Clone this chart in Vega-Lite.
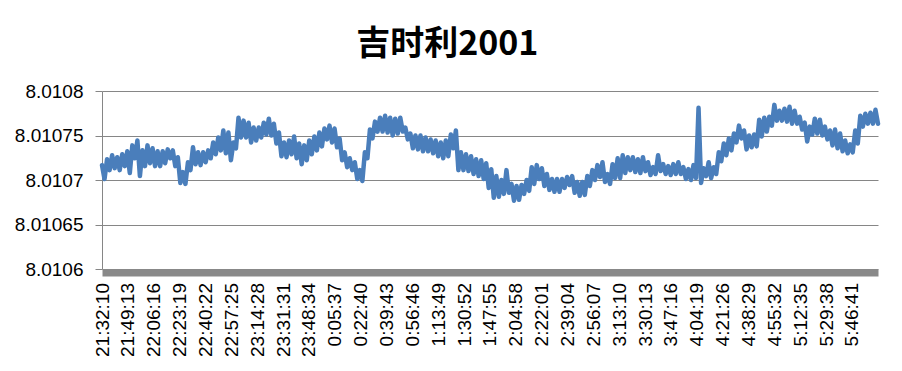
{
  "$schema": "https://vega.github.io/schema/vega-lite/v6.json",
  "width": 776,
  "height": 178,
  "autosize": {"type": "none"},
  "padding": {"left": 102, "top": 91, "right": 24, "bottom": 102},
  "background": "white",
  "title": {"text": "吉时利2001", "anchor": "middle", "frame": "bounds", "font": "Noto Sans CJK SC", "fontSize": 34, "fontWeight": "bold", "color": "#000000", "offset": 20},
  "data": {"values": [
{"n":0,"v":8.0107167},{"n":100,"v":8.0107011},{"n":200,"v":8.0107233},{"n":300,"v":8.0107111},{"n":400,"v":8.0107278},{"n":500,"v":8.0107133},{"n":600,"v":8.0107256},{"n":700,"v":8.0107111},{"n":800,"v":8.0107289},{"n":900,"v":8.0107156},
{"n":1000,"v":8.0107322},{"n":1100,"v":8.0107078},{"n":1200,"v":8.0107389},{"n":1300,"v":8.0107244},{"n":1400,"v":8.0107444},{"n":1500,"v":8.0107044},{"n":1600,"v":8.0107333},{"n":1700,"v":8.0107156},{"n":1800,"v":8.0107389},{"n":1900,"v":8.0107189},
{"n":2000,"v":8.0107356},{"n":2100,"v":8.0107156},{"n":2200,"v":8.0107322},{"n":2300,"v":8.0107156},{"n":2400,"v":8.0107322},{"n":2500,"v":8.0107189},{"n":2600,"v":8.0107344},{"n":2700,"v":8.0107244},{"n":2800,"v":8.0107333},{"n":2900,"v":8.0107156},
{"n":3000,"v":8.0107256},{"n":3100,"v":8.0106967},{"n":3200,"v":8.0107089},{"n":3300,"v":8.0106956},{"n":3400,"v":8.01072},{"n":3500,"v":8.0107111},{"n":3600,"v":8.0107367},{"n":3700,"v":8.0107178},{"n":3800,"v":8.0107311},{"n":3900,"v":8.0107167},
{"n":4000,"v":8.0107311},{"n":4100,"v":8.01072},{"n":4200,"v":8.0107333},{"n":4300,"v":8.0107244},{"n":4400,"v":8.0107422},{"n":4500,"v":8.0107289},{"n":4600,"v":8.0107478},{"n":4700,"v":8.0107333},{"n":4800,"v":8.0107556},{"n":4900,"v":8.01073},
{"n":5000,"v":8.0107533},{"n":5100,"v":8.0107222},{"n":5200,"v":8.0107422},{"n":5300,"v":8.0107356},{"n":5400,"v":8.01077},{"n":5500,"v":8.0107478},{"n":5600,"v":8.0107667},{"n":5700,"v":8.0107478},{"n":5800,"v":8.0107644},{"n":5900,"v":8.0107422},
{"n":6000,"v":8.0107589},{"n":6100,"v":8.0107444},{"n":6200,"v":8.0107589},{"n":6300,"v":8.0107478},{"n":6400,"v":8.0107644},{"n":6500,"v":8.0107511},{"n":6600,"v":8.0107689},{"n":6700,"v":8.01075},{"n":6800,"v":8.0107633},{"n":6900,"v":8.0107411},
{"n":7000,"v":8.0107533},{"n":7100,"v":8.0107267},{"n":7200,"v":8.0107422},{"n":7300,"v":8.0107256},{"n":7400,"v":8.0107444},{"n":7500,"v":8.0107289},{"n":7600,"v":8.0107489},{"n":7700,"v":8.0107244},{"n":7800,"v":8.0107411},{"n":7900,"v":8.0107178},
{"n":8000,"v":8.0107389},{"n":8100,"v":8.0107222},{"n":8200,"v":8.0107444},{"n":8300,"v":8.0107289},{"n":8400,"v":8.0107489},{"n":8500,"v":8.0107333},{"n":8600,"v":8.0107533},{"n":8700,"v":8.0107378},{"n":8800,"v":8.0107578},{"n":8900,"v":8.0107456},
{"n":9000,"v":8.0107611},{"n":9100,"v":8.0107422},{"n":9200,"v":8.0107578},{"n":9300,"v":8.0107367},{"n":9400,"v":8.0107467},{"n":9500,"v":8.0107222},{"n":9600,"v":8.0107311},{"n":9700,"v":8.0107144},{"n":9800,"v":8.0107244},{"n":9900,"v":8.0107111},
{"n":10000,"v":8.01072},{"n":10100,"v":8.0107011},{"n":10200,"v":8.0107111},{"n":10300,"v":8.0106989},{"n":10400,"v":8.0107311},{"n":10500,"v":8.0107244},{"n":10600,"v":8.0107567},{"n":10700,"v":8.0107467},{"n":10800,"v":8.0107656},{"n":10900,"v":8.0107544},
{"n":11000,"v":8.01077},{"n":11100,"v":8.0107544},{"n":11200,"v":8.0107722},{"n":11300,"v":8.0107533},{"n":11400,"v":8.01077},{"n":11500,"v":8.01075},{"n":11600,"v":8.0107689},{"n":11700,"v":8.0107522},{"n":11800,"v":8.01077},{"n":11900,"v":8.0107544},
{"n":12000,"v":8.0107589},{"n":12100,"v":8.0107456},{"n":12200,"v":8.0107522},{"n":12300,"v":8.0107356},{"n":12400,"v":8.01075},{"n":12500,"v":8.0107344},{"n":12600,"v":8.01075},{"n":12700,"v":8.0107322},{"n":12800,"v":8.0107478},{"n":12900,"v":8.0107322},
{"n":13000,"v":8.0107456},{"n":13100,"v":8.01073},{"n":13200,"v":8.0107444},{"n":13300,"v":8.0107267},{"n":13400,"v":8.0107422},{"n":13500,"v":8.0107244},{"n":13600,"v":8.0107444},{"n":13700,"v":8.0107267},{"n":13800,"v":8.0107511},{"n":13900,"v":8.0107356},
{"n":14000,"v":8.0107556},{"n":14100,"v":8.0107111},{"n":14200,"v":8.0107311},{"n":14300,"v":8.0107111},{"n":14400,"v":8.0107289},{"n":14500,"v":8.01071},{"n":14600,"v":8.0107267},{"n":14700,"v":8.0107067},{"n":14800,"v":8.0107233},{"n":14900,"v":8.0107044},
{"n":15000,"v":8.0107222},{"n":15100,"v":8.0107011},{"n":15200,"v":8.0107189},{"n":15300,"v":8.0106911},{"n":15400,"v":8.0107122},{"n":15500,"v":8.01068},{"n":15600,"v":8.0107044},{"n":15700,"v":8.0106811},{"n":15800,"v":8.0107},{"n":15900,"v":8.0106844},
{"n":16000,"v":8.0107111},{"n":16100,"v":8.0106856},{"n":16200,"v":8.0106956},{"n":16300,"v":8.0106767},{"n":16400,"v":8.0106933},{"n":16500,"v":8.0106778},{"n":16600,"v":8.0106944},{"n":16700,"v":8.0106844},{"n":16800,"v":8.0107},{"n":16900,"v":8.0106878},
{"n":17000,"v":8.0107144},{"n":17100,"v":8.0106956},{"n":17200,"v":8.0107167},{"n":17300,"v":8.0107011},{"n":17400,"v":8.0107133},{"n":17500,"v":8.0106933},{"n":17600,"v":8.0107067},{"n":17700,"v":8.0106889},{"n":17800,"v":8.0107011},{"n":17900,"v":8.0106867},
{"n":18000,"v":8.0107011},{"n":18100,"v":8.0106867},{"n":18200,"v":8.0107011},{"n":18300,"v":8.0106911},{"n":18400,"v":8.0107033},{"n":18500,"v":8.0106944},{"n":18600,"v":8.0107044},{"n":18700,"v":8.0106856},{"n":18800,"v":8.0106978},{"n":18900,"v":8.0106822},
{"n":19000,"v":8.0106978},{"n":19100,"v":8.0106833},{"n":19200,"v":8.0107044},{"n":19300,"v":8.0106933},{"n":19400,"v":8.0107111},{"n":19500,"v":8.0107},{"n":19600,"v":8.0107167},{"n":19700,"v":8.0107033},{"n":19800,"v":8.01072},{"n":19900,"v":8.0106978},
{"n":20000,"v":8.0107067},{"n":20100,"v":8.0106956},{"n":20200,"v":8.0107178},{"n":20300,"v":8.0107022},{"n":20400,"v":8.0107244},{"n":20500,"v":8.0107022},{"n":20600,"v":8.0107278},{"n":20700,"v":8.0107078},{"n":20800,"v":8.0107256},{"n":20900,"v":8.0107111},
{"n":21000,"v":8.0107256},{"n":21100,"v":8.0107089},{"n":21200,"v":8.0107233},{"n":21300,"v":8.0107078},{"n":21400,"v":8.0107256},{"n":21500,"v":8.01071},{"n":21600,"v":8.01072},{"n":21700,"v":8.0107056},{"n":21800,"v":8.0107144},{"n":21900,"v":8.0107067},
{"n":22000,"v":8.0107278},{"n":22100,"v":8.01071},{"n":22200,"v":8.0107178},{"n":22300,"v":8.0107067},{"n":22400,"v":8.0107156},{"n":22500,"v":8.0107056},{"n":22600,"v":8.0107178},{"n":22700,"v":8.0107067},{"n":22800,"v":8.01072},{"n":22900,"v":8.0107067},
{"n":23000,"v":8.0107144},{"n":23100,"v":8.0107011},{"n":23200,"v":8.0107122},{"n":23300,"v":8.0107},{"n":23400,"v":8.0107167},{"n":23500,"v":8.0107022},{"n":23600,"v":8.0107811},{"n":23700,"v":8.0106967},{"n":23800,"v":8.0107133},{"n":23900,"v":8.0107044},
{"n":24000,"v":8.01072},{"n":24100,"v":8.0107022},{"n":24200,"v":8.0107144},{"n":24300,"v":8.0107067},{"n":24400,"v":8.0107311},{"n":24500,"v":8.0107211},{"n":24600,"v":8.0107411},{"n":24700,"v":8.0107278},{"n":24800,"v":8.0107467},{"n":24900,"v":8.0107333},
{"n":25000,"v":8.0107522},{"n":25100,"v":8.0107422},{"n":25200,"v":8.0107611},{"n":25300,"v":8.0107467},{"n":25400,"v":8.0107556},{"n":25500,"v":8.0107344},{"n":25600,"v":8.01075},{"n":25700,"v":8.0107367},{"n":25800,"v":8.0107511},{"n":25900,"v":8.0107378},
{"n":26000,"v":8.0107678},{"n":26100,"v":8.0107489},{"n":26200,"v":8.01077},{"n":26300,"v":8.0107544},{"n":26400,"v":8.0107711},{"n":26500,"v":8.0107611},{"n":26600,"v":8.0107844},{"n":26700,"v":8.0107667},{"n":26800,"v":8.0107778},{"n":26900,"v":8.0107667},
{"n":27000,"v":8.01078},{"n":27100,"v":8.0107656},{"n":27200,"v":8.0107822},{"n":27300,"v":8.0107633},{"n":27400,"v":8.0107778},{"n":27500,"v":8.0107633},{"n":27600,"v":8.0107711},{"n":27700,"v":8.0107567},{"n":27800,"v":8.0107644},{"n":27900,"v":8.0107433},
{"n":28000,"v":8.01076},{"n":28100,"v":8.0107511},{"n":28200,"v":8.0107689},{"n":28300,"v":8.0107522},{"n":28400,"v":8.0107678},{"n":28500,"v":8.01075},{"n":28600,"v":8.01076},{"n":28700,"v":8.0107456},{"n":28800,"v":8.0107556},{"n":28900,"v":8.0107389},
{"n":29000,"v":8.0107567},{"n":29100,"v":8.0107356},{"n":29200,"v":8.0107522},{"n":29300,"v":8.0107322},{"n":29400,"v":8.0107444},{"n":29500,"v":8.01073},{"n":29600,"v":8.01074},{"n":29700,"v":8.0107311},{"n":29800,"v":8.0107556},{"n":29900,"v":8.0107411},
{"n":30000,"v":8.0107722},{"n":30100,"v":8.01076},{"n":30200,"v":8.0107744},{"n":30300,"v":8.0107633},{"n":30400,"v":8.0107756},{"n":30500,"v":8.0107633},{"n":30600,"v":8.0107789},{"n":30700,"v":8.0107633}
  ]},
  "mark": {"type": "line", "color": "#4a7ebb", "strokeWidth": 4.5, "strokeJoin": "round", "strokeCap": "round"},
  "encoding": {
    "x": {
      "field": "n", "type": "quantitative",
      "scale": {"domain": [0, 30700], "nice": false, "zero": false},
      "axis": {
        "title": null,
        "values": [0,1023,2046,3069,4092,5115,6138,7161,8184,9207,10230,11253,12276,13299,14322,15345,16368,17391,18414,19437,20460,21483,22506,23529,24552,25575,26598,27621,28644,29667],
        "labelExpr": "['21:32:10','21:49:13','22:06:16','22:23:19','22:40:22','22:57:25','23:14:28','23:31:31','23:48:34','0:05:37','0:22:40','0:39:43','0:56:46','1:13:49','1:30:52','1:47:55','2:04:58','2:22:01','2:39:04','2:56:07','3:13:10','3:30:13','3:47:16','4:04:19','4:21:26','4:38:29','4:55:32','5:12:35','5:29:38','5:46:41'][round(datum.value/1023)]",
        "labelAngle": -90,
        "grid": false,
        "ticks": false,
        "tickSize": 0,
        "domainColor": "#898989",
        "domainWidth": 7,
        "offset": 3.5,
        "labelPadding": 10,
        "labelFont": "Liberation Sans",
        "labelFontSize": 19,
        "labelColor": "#000000",
        "labelOverlap": false,
        "labelFlush": false
      }
    },
    "y": {
      "field": "v", "type": "quantitative",
      "scale": {"domain": [8.0106, 8.0108], "nice": false, "zero": false},
      "axis": {
        "title": null,
        "values": [8.0106, 8.01065, 8.0107, 8.01075, 8.0108],
        "format": ".5~f",
        "grid": true,
        "gridColor": "#868686",
        "gridWidth": 1,
        "domainColor": "#868686",
        "tickColor": "#868686",
        "tickSize": 7,
        "labelPadding": 12,
        "labelFont": "Liberation Sans",
        "labelFontSize": 19,
        "labelColor": "#000000",
        "labelFlush": false,
        "labelOverlap": false
      }
    }
  },
  "config": {"view": {"stroke": null}}
}
